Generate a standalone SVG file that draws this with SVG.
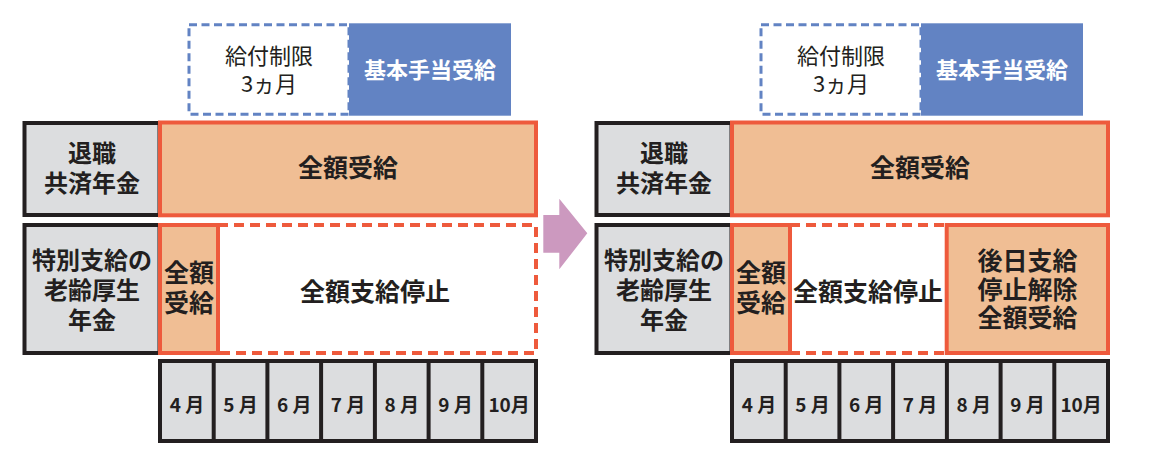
<svg xmlns="http://www.w3.org/2000/svg" width="1152" height="459" viewBox="0 0 1152 459">
<style>
text{font-family:"Noto Sans CJK JP","Noto Sans",sans-serif;fill:#231F20;text-anchor:middle}
.b{font-weight:700}
.lbl{fill:#DCDDDF;stroke:#231F20;stroke-width:4}
.full{fill:#F0BE94;stroke:#EE5A3C;stroke-width:4}
.stop{fill:#FFFFFF;stroke:#EE5A3C;stroke-width:4;stroke-dasharray:10 6}
.dline{stroke:#EE5A3C;stroke-width:4;stroke-dasharray:10 6;fill:none}
.lim{fill:#FFFFFF;stroke:#6283C3;stroke-width:3;stroke-dasharray:8 4.5}
.basic{fill:#6283C3}
.cell{fill:#DCDDDF;stroke:#231F20;stroke-width:4}
.m{font-size:19px;font-weight:700}
.t24{font-size:24px}
.t25{font-size:25px}
.t22{font-size:22px}
</style>
<rect width="1152" height="459" fill="#FFFFFF"/>

<!-- LEFT PANEL -->
<g id="left-limit">
<rect class="lim" x="189" y="24.7" width="160" height="89.5"/>
<text class="t22" x="269" y="63.8">給付制限</text>
<text class="t22" x="269" y="92">3ヵ月</text>
</g>
<g id="left-basic">
<rect class="basic" x="349" y="23.3" width="162" height="92.4"/>
<text class="t22 b" x="430" y="78" style="fill:#FFFFFF">基本手当受給</text>
</g>
<g id="left-kyosai-label">
<rect class="lbl" x="24.5" y="123" width="135" height="92"/>
<text class="t24 b" x="92" y="161.9">退職</text>
<text class="t24 b" x="92" y="191.9">共済年金</text>
</g>
<g id="left-kyosai-full">
<rect class="full" x="160" y="122.5" width="376" height="92.8"/>
<text class="t25 b" x="348" y="176.8">全額受給</text>
</g>
<g id="left-kosei-label">
<rect class="lbl" x="24.5" y="225" width="135" height="128"/>
<text class="t24 b" x="92" y="268.9">特別支給の</text>
<text class="t24 b" x="92" y="298.9">老齢厚生</text>
<text class="t24 b" x="92" y="328.9">年金</text>
</g>
<g id="left-kosei-stop">
<rect class="stop" x="218" y="225" width="318" height="128"/>
<text class="t25 b" x="375" y="300.5">全額支給停止</text>
</g>
<g id="left-kosei-full">
<rect class="full" x="160" y="225" width="58" height="128"/>
<text class="t25 b" x="189" y="281.5">全額</text>
<text class="t25 b" x="189" y="311.5">受給</text>
</g>
<g id="left-months">
<rect class="cell" x="160" y="361" width="376" height="80"/>
<g stroke="#231F20" stroke-width="4">
<line x1="213.7" y1="361" x2="213.7" y2="441"/>
<line x1="267.4" y1="361" x2="267.4" y2="441"/>
<line x1="321.1" y1="361" x2="321.1" y2="441"/>
<line x1="374.9" y1="361" x2="374.9" y2="441"/>
<line x1="428.6" y1="361" x2="428.6" y2="441"/>
<line x1="482.3" y1="361" x2="482.3" y2="441"/>
</g>
<text class="m" x="187" y="412">4 月</text>
<text class="m" x="240.6" y="412">5 月</text>
<text class="m" x="294.3" y="412">6 月</text>
<text class="m" x="348" y="412">7 月</text>
<text class="m" x="401.7" y="412">8 月</text>
<text class="m" x="455.4" y="412">9 月</text>
<text class="m" x="509.1" y="412">10月</text>
</g>

<!-- CONNECTOR -->
<g id="connectors">
<polygon points="543.3,215 559.3,215 559.3,198.7 587.3,233.3 559.3,269.3 559.3,252.7 543.3,252.7" fill="#CC99BF"/>
</g>

<!-- RIGHT PANEL -->
<g id="right-limit">
<rect class="lim" x="761" y="24.7" width="160" height="89.5"/>
<text class="t22" x="841" y="63.8">給付制限</text>
<text class="t22" x="841" y="92">3ヵ月</text>
</g>
<g id="right-basic">
<rect class="basic" x="921" y="23.3" width="162" height="92.4"/>
<text class="t22 b" x="1002" y="78" style="fill:#FFFFFF">基本手当受給</text>
</g>
<g id="right-kyosai-label">
<rect class="lbl" x="596.5" y="123" width="135" height="92"/>
<text class="t24 b" x="664" y="161.9">退職</text>
<text class="t24 b" x="664" y="191.9">共済年金</text>
</g>
<g id="right-kyosai-full">
<rect class="full" x="732" y="122.5" width="376" height="92.8"/>
<text class="t25 b" x="920" y="176.8">全額受給</text>
</g>
<g id="right-kosei-label">
<rect class="lbl" x="596.5" y="225" width="135" height="128"/>
<text class="t24 b" x="664" y="268.9">特別支給の</text>
<text class="t24 b" x="664" y="298.9">老齢厚生</text>
<text class="t24 b" x="664" y="328.9">年金</text>
</g>
<g id="right-kosei-stop">
<rect x="790" y="225" width="156" height="128" fill="#FFFFFF"/>
<line class="dline" x1="790" y1="225" x2="946" y2="225"/>
<line class="dline" x1="790" y1="353" x2="946" y2="353"/>
<text class="t25 b" x="868" y="300.5">全額支給停止</text>
</g>
<g id="right-kosei-full">
<rect class="full" x="732" y="225" width="58" height="128"/>
<text class="t25 b" x="761" y="281.5">全額</text>
<text class="t25 b" x="761" y="311.5">受給</text>
</g>
<g id="right-kosei-resume">
<rect class="full" x="946.7" y="225" width="161.3" height="128"/>
<text class="t25 b" x="1027.5" y="269.5">後日支給</text>
<text class="t25 b" x="1027.5" y="298.5">停止解除</text>
<text class="t25 b" x="1027.5" y="327">全額受給</text>
</g>
<g id="right-months">
<rect class="cell" x="732" y="361" width="376" height="80"/>
<g stroke="#231F20" stroke-width="4">
<line x1="785.7" y1="361" x2="785.7" y2="441"/>
<line x1="839.4" y1="361" x2="839.4" y2="441"/>
<line x1="893.1" y1="361" x2="893.1" y2="441"/>
<line x1="946.9" y1="361" x2="946.9" y2="441"/>
<line x1="1000.6" y1="361" x2="1000.6" y2="441"/>
<line x1="1054.3" y1="361" x2="1054.3" y2="441"/>
</g>
<text class="m" x="759" y="412">4 月</text>
<text class="m" x="812.6" y="412">5 月</text>
<text class="m" x="866.3" y="412">6 月</text>
<text class="m" x="920" y="412">7 月</text>
<text class="m" x="973.7" y="412">8 月</text>
<text class="m" x="1027.4" y="412">9 月</text>
<text class="m" x="1081.1" y="412">10月</text>
</g>
</svg>
